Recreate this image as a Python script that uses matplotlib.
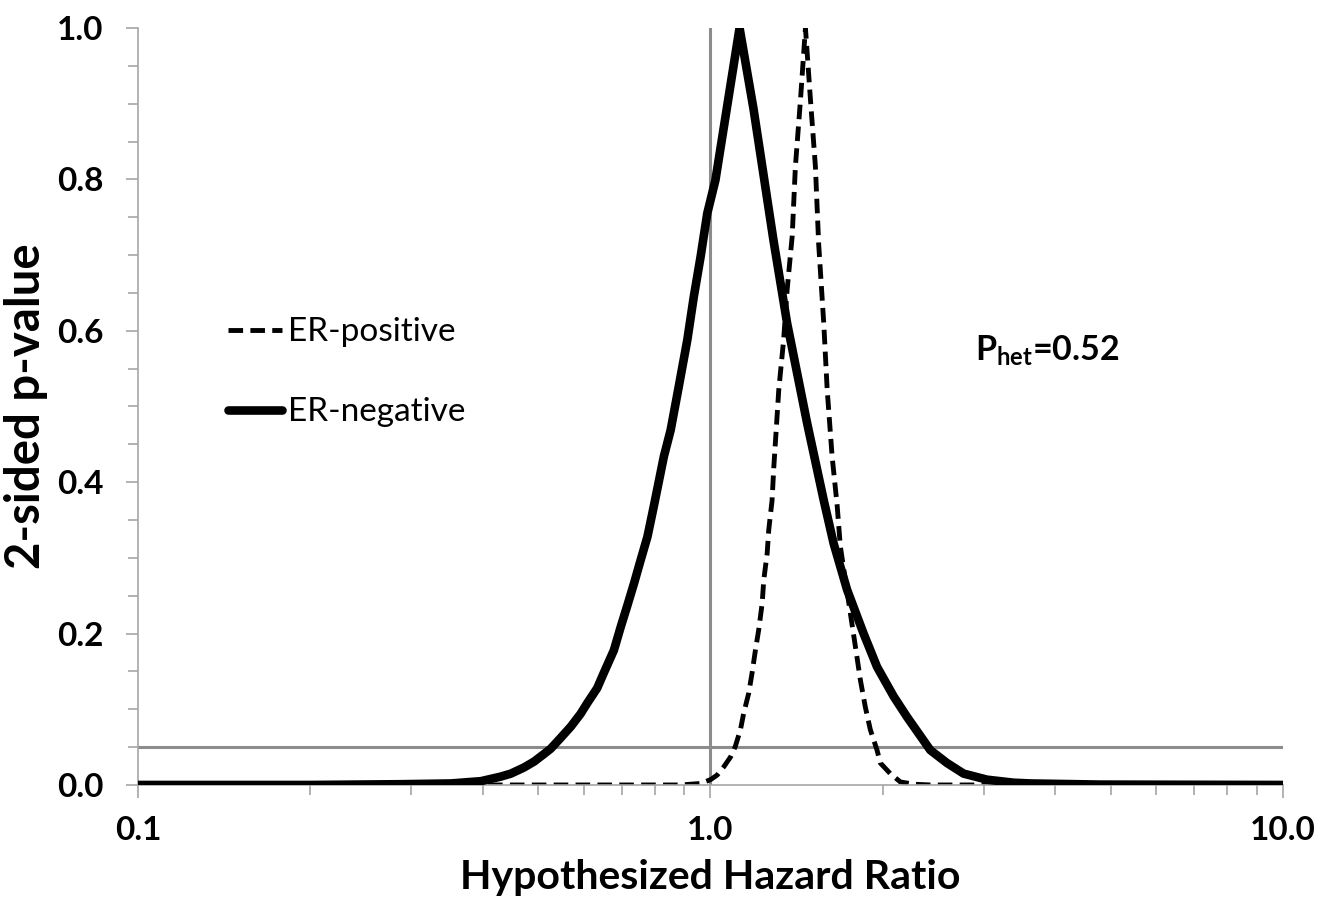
import matplotlib
matplotlib.use("Agg")
import matplotlib.pyplot as plt

plt.rcParams['font.family'] = ['Lato', 'DejaVu Sans']
plt.rcParams['mathtext.fontset'] = 'custom'
plt.rcParams['mathtext.rm'] = 'Lato:bold'
plt.rcParams['mathtext.bf'] = 'Lato:bold'

# p-value function, ER-negative (solid)
neg_hr = [0.1, 0.2, 0.288, 0.352, 0.397, 0.430, 0.448, 0.472, 0.492, 0.512,
          0.526, 0.547, 0.570, 0.593, 0.609, 0.634, 0.651, 0.678, 0.697, 0.715,
          0.735, 0.755, 0.776, 0.796, 0.829, 0.852, 0.880, 0.911, 0.935, 0.961,
          0.987, 1.020, 1.071, 1.124, 1.189, 1.288, 1.361, 1.475, 1.577, 1.641,
          1.732, 1.851, 1.954, 2.089, 2.204, 2.421, 2.589, 2.768, 3.041, 3.383,
          3.618, 4.79, 10.0]
neg_p = [0.0, 0.0, 0.001, 0.002, 0.005, 0.011, 0.015, 0.023, 0.031, 0.041,
         0.048, 0.062, 0.077, 0.094, 0.108, 0.128, 0.148, 0.178, 0.209, 0.236,
         0.266, 0.297, 0.328, 0.368, 0.434, 0.469, 0.526, 0.588, 0.645, 0.698,
         0.755, 0.799, 0.900, 1.0, 0.893, 0.720, 0.610, 0.478, 0.376, 0.319,
         0.258, 0.200, 0.156, 0.117, 0.090, 0.046, 0.029, 0.015, 0.007, 0.003,
         0.002, 0.0005, 0.0]

# p-value function, ER-positive (dashed)
pos_hr = [0.1, 0.886, 0.961, 1.0, 1.027, 1.055, 1.084, 1.105, 1.128, 1.143,
          1.166, 1.182, 1.198, 1.214, 1.231, 1.239, 1.256, 1.264, 1.281, 1.290,
          1.316, 1.342, 1.361, 1.389, 1.407, 1.436, 1.465, 1.495, 1.525, 1.545,
          1.577, 1.599, 1.631, 1.664, 1.686, 1.720, 1.755, 1.791, 1.827, 1.864,
          1.902, 1.954, 1.980, 2.061, 2.146, 2.264, 2.421, 10.0]
pos_p = [0.0, 0.0, 0.002, 0.007, 0.013, 0.024, 0.037, 0.051, 0.073, 0.095,
         0.121, 0.148, 0.178, 0.205, 0.240, 0.271, 0.306, 0.337, 0.376, 0.420,
         0.522, 0.588, 0.654, 0.725, 0.817, 0.905, 1.0, 0.905, 0.817, 0.715,
         0.610, 0.522, 0.434, 0.370, 0.315, 0.271, 0.227, 0.183, 0.139, 0.103,
         0.073, 0.046, 0.029, 0.015, 0.004, 0.001, 0.0, 0.0]

ref_hr = 1.0
alpha = 0.05
p_het = "0.52"

fig = plt.figure(figsize=(13.21, 9.10), dpi=100)
ax = fig.add_axes([0.1045, 0.1374, 0.8667, 0.8318])

gray = '#8c8c8c'
ax.axvline(ref_hr, color=gray, lw=2.2, zorder=1)
ax.axhline(alpha, color=gray, lw=2.2, zorder=1)

ax.plot(pos_hr, pos_p, color='black', lw=3.5, dashes=(3.0, 1.5),
        label='ER-positive', zorder=2)
ax.plot(neg_hr, neg_p, color='black', lw=6.2, solid_capstyle='round',
        solid_joinstyle='round', label='ER-negative', zorder=3)

ax.set_xscale('log')
ax.set_xlim(0.1, 10)
ax.set_ylim(0, 1)
ax.set_xticks([0.1, 1, 10])
ax.set_xticklabels(['0.1', '1.0', '10.0'])
ax.set_yticks([0, 0.2, 0.4, 0.6, 0.8, 1.0])
ax.set_yticklabels(['0.0', '0.2', '0.4', '0.6', '0.8', '1.0'])
ax.set_yticks([i * 0.05 for i in range(21)], minor=True)

for s in ['top', 'right']:
    ax.spines[s].set_visible(False)
for s in ['left', 'bottom']:
    ax.spines[s].set_color('#a6a6a6')
    ax.spines[s].set_linewidth(1.2)

ax.tick_params(which='both', color='#a6a6a6', width=1.2, labelsize=24)
ax.tick_params(axis='x', which='major', length=9.5, pad=13)
ax.tick_params(axis='x', which='minor', length=7)
ax.tick_params(axis='y', which='major', length=9, pad=16)
ax.tick_params(axis='y', which='minor', length=7.5)
for lab in ax.get_xticklabels() + ax.get_yticklabels():
    lab.set_fontweight('bold')

ax.set_xlabel('Hypothesized Hazard Ratio', fontsize=29.5, fontweight='bold', labelpad=10)
ax.set_ylabel('2-sided p-value', fontsize=34, fontweight='bold', labelpad=6)

ax.legend(loc='center left', bbox_to_anchor=(0.079, 0.545), frameon=False,
          fontsize=24, handlelength=1.6, handletextpad=0.2, labelspacing=1.5,
          borderpad=0, borderaxespad=0)

ax.text(2.9, 0.56, r'$\mathbf{P_{het}}$=' + p_het, fontsize=24.5, fontweight='bold',
        va='baseline', ha='left')

fig.savefig('out.png', dpi=100)
